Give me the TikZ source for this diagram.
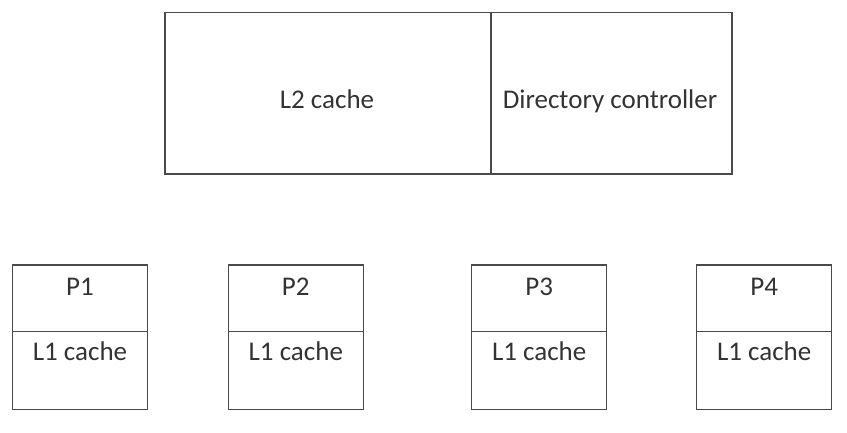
\documentclass[tikz,border=0pt]{standalone}
\usepackage{fontspec}
\setmainfont{Carlito}
\definecolor{linec}{HTML}{4A4A4A}
\definecolor{textc}{HTML}{333333}
\begin{document}
\begin{tikzpicture}[x=1pt,y=-1pt,
  boxr/.style={draw=linec, line width=1.3pt, rectangle, inner sep=0pt, outer sep=0pt},
  lbl/.style={text=textc, font=\fontsize{27}{32}\selectfont, anchor=base, inner sep=0pt}]
\useasboundingbox (0,0) rectangle (847,432);
% top
\node[boxr, minimum width=326pt, minimum height=161.5pt] (l2) at (328,93.25) {};
\node[boxr, minimum width=241pt, minimum height=161.5pt] (dir) at (611.5,93.25) {};
\node[lbl] (l2t) at (327,108.3) {L2 cache};
\node[lbl] (dirt) at (610,108.3) {Directory controller};
% bottom
\foreach \i/\xl/\xr in {1/12.3/147.7, 2/228.3/363.3, 3/471.7/606.7, 4/696.7/831.7}{
  \pgfmathsetmacro{\xc}{(\xl+\xr)/2}
  \pgfmathsetmacro{\w}{\xr-\xl}
  \node[boxr, minimum width=\w pt, minimum height=66.3pt] (p\i) at (\xc,298.15) {};
  \node[boxr, minimum width=\w pt, minimum height=78pt] (c\i) at (\xc,370.3) {};
  \node[lbl] (p\i t) at (\xc,295) {P\i};
  \node[lbl] (c\i t) at (\xc,360) {L1 cache};
}
\end{tikzpicture}
\end{document}
